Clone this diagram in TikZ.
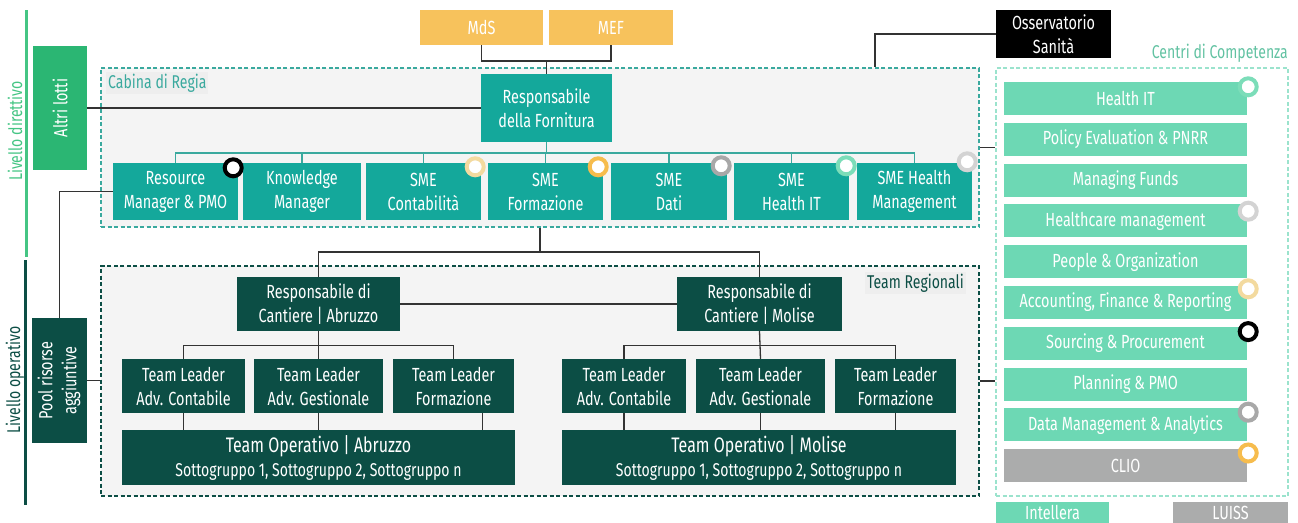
\documentclass[tikz,border=0pt]{standalone}
\usepackage{fontspec}
\setmainfont{Fira Sans}[FakeStretch=0.76]
\usetikzlibrary{positioning, calc}

\definecolor{tealbox}{HTML}{14A89B}
\definecolor{darkteal}{HTML}{0C4E45}
\definecolor{greenbox}{HTML}{2BB673}
\definecolor{dirgreen}{HTML}{45C584}
\definecolor{mintbox}{HTML}{6DD8B4}
\definecolor{mintline}{HTML}{9BE3CD}
\definecolor{yellowbox}{HTML}{F7C25C}
\definecolor{greybox}{HTML}{ABACAC}
\definecolor{tealline}{HTML}{3AA99E}
\definecolor{connline}{HTML}{333333}
\definecolor{panelfill}{HTML}{F4F4F4}
\definecolor{labelfill}{HTML}{EEEEEE}
\definecolor{ringblack}{HTML}{000000}
\definecolor{ringpale}{HTML}{F3DA9F}
\definecolor{ringgold}{HTML}{F6BC4D}
\definecolor{ringgrey}{HTML}{A8A8A8}
\definecolor{ringlight}{HTML}{D3D3D3}
\definecolor{ringmint}{HTML}{7CDDB9}

\tikzset{
  box/.style={inner sep=0pt, align=center, text=white, font=\fontsize{19}{24}\selectfont},
  cabbox/.style={box, fill=tealbox, minimum height=57pt},
  regbox/.style={box, fill=darkteal, minimum height=54pt},
  ccbox/.style={box, fill=mintbox, minimum width=243pt, minimum height=33pt},
  panel/.style={draw=#1, dashed, dash pattern=on 4pt off 2.5pt, line width=1.3pt, fill=panelfill, inner sep=0pt},
  lbl/.style={font=\fontsize{18.5}{22}\selectfont, inner sep=2pt},
  conn/.style={draw=connline, line width=1.3pt},
  tconn/.style={draw=tealline, line width=1.3pt},
  badge/.style={circle, draw=#1, line width=4pt, fill=white, minimum size=17pt, inner sep=0pt}
}

\begin{document}
\begin{tikzpicture}[x=1pt,y=-1pt]
\useasboundingbox (0,0) rectangle (1298,522);

\node[panel=tealline, minimum width=878pt, minimum height=159pt] (cabina) at (540,147.5) {};
\node[panel=darkteal, minimum width=878pt, minimum height=230pt] (teamreg) at (540,381) {};
\node[panel=mintline, fill=white, minimum width=292pt, minimum height=428pt] (centri) at (1142,282) {};

\node[lbl, text=tealline, fill=labelfill, anchor=west] (cabLbl) at (106,83) {Cabina di Regia};
\node[lbl, text=darkteal, fill=labelfill, anchor=east] (regLbl) at (966,283) {Team Regionali};
\node[lbl, text=mintbox!90!black, inner sep=0pt, anchor=east] (ccLbl) at (1288,53) {Centri di Competenza};

\draw[dirgreen, line width=3pt] (26,10) -- (26,257);
\draw[darkteal, line width=3pt] (25,260) -- (25,505);
\node[lbl, rotate=90, text=dirgreen] (livD) at (15,131) {Livello direttivo};
\node[lbl, rotate=90, text=darkteal] (livO) at (15,380) {Livello operativo};

\node[box, fill=greenbox, minimum width=54pt, minimum height=124pt] (altri) at (60,108) {\rotatebox{90}{Altri lotti}};
\node[box, fill=darkteal, minimum width=55pt, minimum height=125pt] (pool) at (59.5,380.5)
  {\rotatebox{90}{\tabular{@{}c@{}}Pool risorse\\aggiuntive\endtabular}};

\node[box, fill=yellowbox, minimum width=123pt, minimum height=35pt] (mds) at (481.5,27.5) {MdS};
\node[box, fill=yellowbox, minimum width=124pt, minimum height=35pt] (mef) at (611,27.5) {MEF};
\node[box, fill=black, minimum width=115pt, minimum height=48pt] (oss) at (1053.5,34) {Osservatorio\\Sanità};

\node[box, fill=tealbox, minimum width=131pt, minimum height=68pt] (resp) at (546.5,108) {Responsabile\\della Fornitura};

\node[cabbox, minimum width=125pt] (resMgr) at (175.5,191.5) {Resource\\Manager \& PMO};
\node[cabbox, minimum width=118pt] (knowMgr) at (302,191.5) {Knowledge\\Manager};
\node[cabbox, minimum width=115pt] (smeCont) at (423.5,191.5) {SME\\Contabilità};
\node[cabbox, minimum width=115pt] (smeForm) at (545.5,191.5) {SME\\Formazione};
\node[cabbox, minimum width=116pt] (smeDati) at (669,191.5) {SME\\Dati};
\node[cabbox, minimum width=115pt] (smeHit) at (791.5,191.5) {SME\\Health IT};
\node[cabbox, minimum width=115pt] (smeHm) at (914.5,191.5) {SME Health\\Management};

\node[regbox, minimum width=163pt] (respA) at (318.5,304) {Responsabile di\\Cantiere | Abruzzo};
\node[regbox, minimum width=165pt] (respM) at (759.5,304) {Responsabile di\\Cantiere | Molise};

\node[regbox, minimum width=123pt] (tlcA) at (183.5,386) {Team Leader\\Adv. Contabile};
\node[regbox, minimum width=129pt] (tlgA) at (318.5,386) {Team Leader\\Adv. Gestionale};
\node[regbox, minimum width=121pt] (tlfA) at (453.5,386) {Team Leader\\Formazione};
\node[regbox, minimum width=124pt] (tlcM) at (624,386) {Team Leader\\Adv. Contabile};
\node[regbox, minimum width=129pt] (tlgM) at (760.5,386) {Team Leader\\Adv. Gestionale};
\node[regbox, minimum width=121pt] (tlfM) at (895.5,386) {Team Leader\\Formazione};

\node[regbox, minimum width=393pt, minimum height=55pt, font=\fontsize{18.5}{24}\selectfont] (opA) at (318.5,457.5)
  {{\fontsize{21}{24}\selectfont Team Operativo | Abruzzo}\\Sottogruppo 1, Sottogruppo 2, Sottogruppo n};
\node[regbox, minimum width=394pt, minimum height=55pt, font=\fontsize{18.5}{24}\selectfont] (opM) at (759,457.5)
  {{\fontsize{21}{24}\selectfont Team Operativo | Molise}\\Sottogruppo 1, Sottogruppo 2, Sottogruppo n};

\foreach \t [count=\i] in {Health IT, Policy Evaluation \& PNRR, Managing Funds, Healthcare management,
  People \& Organization, {Accounting, Finance \& Reporting}, Sourcing \& Procurement, Planning \& PMO,
  Data Management \& Analytics}
  \node[ccbox] (cc\i) at (1125.5,{98.5+(\i-1)*40.8}) {\t};
\node[ccbox, fill=greybox] (clio) at (1125.5,465.7) {CLIO};

\node[box, fill=mintbox, minimum width=113pt, minimum height=24pt] (intellera) at (1052.5,514) {\raisebox{2.5pt}{Intellera}};
\node[box, fill=greybox, minimum width=115pt, minimum height=24pt] (luiss) at (1230.5,514) {\raisebox{2.5pt}{LUISS}};

% connectors
\coordinate (topJ) at (546.5,61);
\draw[conn] (mds.south) |- (topJ) -| (mef.south);
\draw[conn] (topJ) -- (resp.north);
\draw[conn] (altri.east) -- (resp.west);
\coordinate (ossJ) at (875,0);
\draw[conn] (oss.west) -| (ossJ |- cabina.north);
\draw[conn] (cabina.east) -- (centri.west |- cabina.east);
\draw[conn] (teamreg.east) -- (centri.west |- teamreg.east);

\coordinate (busJ) at (546.5,153);
\draw[tconn] (resp.south) -- (busJ);
\draw[tconn] (resMgr.north) |- (busJ) -| (smeHm.north);
\foreach \n in {knowMgr,smeCont,smeForm,smeDati,smeHit}
  \draw[tconn] (\n.north) -- (\n.north |- busJ);

\draw[conn] (resMgr.west) -| (pool.north);
\draw[conn] (pool.east) -- (teamreg.west |- pool.east);

\coordinate (regJ) at (540,252);
\draw[conn] (cabina.south) -- (regJ);
\draw[conn] (respA.north) |- (regJ) -| (respM.north);
\draw[conn] (respA.east) -- (respM.west);

\draw[conn] (respA.south) -- (tlgA.north);
\draw[conn] (tlcA.north) -- ++(0,-13) -| (tlfA.north);
\draw[conn] (respM.south) -- (tlgM.north);
\draw[conn] (tlcM.north) -- ++(0,-13) -| (tlfM.north);
\foreach \n in {tlcA,tlgA,tlcM,tlgM,tlfM}
  \draw[conn] (\n.south) -- (\n.south |- opA.north);
\draw[conn] ([xshift=29pt]tlfA.south) -- ([xshift=29pt]tlfA.south |- opA.north);

% badges
\node[badge=ringblack] (bRes) at ($(resMgr.north east)+(-5,5)$) {};
\node[badge=ringpale] (bCont) at ($(smeCont.north east)+(-6,4)$) {};
\node[badge=ringgold] (bForm) at ($(smeForm.north east)+(-5,4)$) {};
\node[badge=ringgrey] (bDati) at ($(smeDati.north east)+(-6,3)$) {};
\node[badge=ringmint] (bHit) at ($(smeHit.north east)+(-3,3)$) {};
\node[badge=ringlight] (bHm) at ($(smeHm.north east)+(-5,-1)$) {};
\node[badge=ringmint] (bc1) at ($(cc1.north east)+(1,5)$) {};
\node[badge=ringlight] (bc4) at ($(cc4.north east)+(1,7)$) {};
\node[badge=ringpale] (bc6) at ($(cc6.north east)+(1,3)$) {};
\node[badge=ringblack] (bc7) at ($(cc7.north east)+(1,5)$) {};
\node[badge=ringgrey] (bc9) at ($(cc9.north east)+(1,4)$) {};
\node[badge=ringgold] (bClio) at ($(clio.north east)+(1,4)$) {};
\end{tikzpicture}
\end{document}
